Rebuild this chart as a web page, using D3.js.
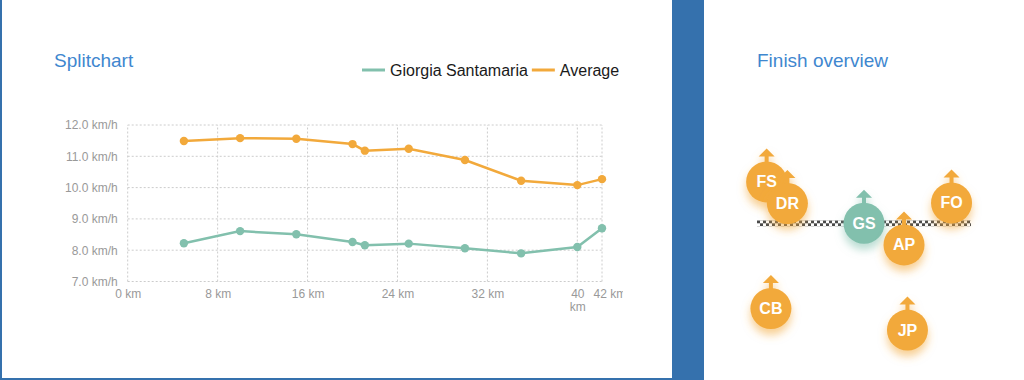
<!DOCTYPE html>
<html>
<head>
<meta charset="utf-8">
<script src="https://cdn.jsdelivr.net/npm/d3@7"></script>
<style>
  html, body { margin: 0; padding: 0; background: #3571ad; }
  svg { display: block; font-family: "Liberation Sans", Arial, Helvetica, sans-serif; }
</style>
</head>
<body>
<svg id="chart" width="1024" height="380"></svg>
<script>
// ---------- data ----------
const splitKm = [5, 10, 15, 20, 21.0975, 25, 30, 35, 40, 42.195];
const runnerSpeed = [8.22, 8.61, 8.51, 8.26, 8.16, 8.21, 8.06, 7.90, 8.10, 8.70];
const averageSpeed = [11.49, 11.58, 11.56, 11.39, 11.18, 11.24, 10.88, 10.22, 10.08, 10.27];
const seriesNames = ["Giorgia Santamaria", "Average"];
const xTicks = [0, 8, 16, 24, 32, 40, 42.195];
const xTickLabels = ["0 km", "8 km", "16 km", "24 km", "32 km", "40 km", "42 km"];
const yTicks = [7, 8, 9, 10, 11, 12];
const yTickLabels = ["7.0 km/h", "8.0 km/h", "9.0 km/h", "10.0 km/h", "11.0 km/h", "12.0 km/h"];

// finish overview
const finisherInitials = ["FS", "DR", "GS", "AP", "FO", "CB", "JP"];
const finisherX = [4.5, 14.2, 50, 68.7, 90.9, 6.5, 70.3];
const finisherY = [0.69, 0.33, 0, -0.36, 0.34, -1.42, -1.78];
const focusRunner = "GS";

// ---------- styles ----------
const GREEN = "#82c0ad";
const ORANGE = "#f2a93b";
const TITLE = "#3f87cf";

const svg = d3.select("#chart");

// background cards
svg.append("rect").attr("x", 2).attr("y", 0).attr("width", 670).attr("height", 378).attr("fill", "#fff");
svg.append("rect").attr("x", 704).attr("y", 0).attr("width", 320).attr("height", 380).attr("fill", "#fff");

// titles
svg.append("text").attr("x", 54).attr("y", 67).attr("font-size", 19).attr("fill", TITLE).text("Splitchart");
svg.append("text").attr("x", 757).attr("y", 67).attr("font-size", 19).attr("fill", TITLE).text("Finish overview");

// ---------- line chart ----------
const x = d3.scaleLinear().domain([0, 42.195]).range([127.7, 602]);
const y = d3.scaleLinear().domain([7, 12]).range([281.5, 125]);

const grid = svg.append("g");
grid.selectAll("line.h").data(yTicks).join("line")
  .attr("x1", x(0)).attr("x2", x(42.195))
  .attr("y1", d => y(d)).attr("y2", d => y(d))
  .attr("stroke", "#cccccc").attr("stroke-width", 1).attr("stroke-dasharray", "2,2");
grid.selectAll("line.v").data(xTicks).join("line")
  .attr("x1", d => x(d)).attr("x2", d => x(d))
  .attr("y1", y(7)).attr("y2", y(12))
  .attr("stroke", "#cccccc").attr("stroke-width", 1).attr("stroke-dasharray", "2,2");

// y axis labels
const yAxis = d3.axisLeft(y).tickValues(yTicks).tickSize(0).tickPadding(10)
  .tickFormat((d, i) => yTickLabels[i]);
const gy = svg.append("g").attr("transform", `translate(${x(0)},0)`).call(yAxis);
gy.select(".domain").remove();
gy.selectAll("text").attr("font-size", 12).attr("fill", "#999")
  .attr("font-family", "Liberation Sans, Arial, sans-serif");

// x axis labels (clipped at the right edge like the original)
svg.append("clipPath").attr("id", "xclip").append("rect")
  .attr("x", -40).attr("y", -5).attr("width", 663).attr("height", 40);
const xAxis = d3.axisBottom(x).tickValues(xTicks).tickSize(0).tickPadding(8)
  .tickFormat((d, i) => xTickLabels[i]);
const gxOuter = svg.append("g").attr("transform", `translate(0,${y(7)})`);
const gx = gxOuter.append("g").attr("clip-path", "url(#xclip)").call(xAxis);
gx.select(".domain").remove();
gx.selectAll("text").attr("font-size", 12).attr("fill", "#999")
  .attr("font-family", "Liberation Sans, Arial, sans-serif");
// wrap "40 km" onto two lines (not enough room)
gx.selectAll(".tick text").filter(d => d === 40).each(function() {
  const t = d3.select(this);
  const parts = t.text().split(" ");
  t.text(null);
  t.append("tspan").attr("x", 0).attr("dy", "0.71em").text(parts[0]);
  t.append("tspan").attr("x", 0).attr("dy", "1.1em").text(parts[1]);
}).attr("dy", null);
gx.selectAll(".tick text").filter(d => d === 42.195).attr("text-anchor", "start").attr("x", -9);

const line = d3.line().x(d => x(d[0])).y(d => y(d[1]));
const series = [
  { name: seriesNames[0], color: GREEN, values: splitKm.map((k, i) => [k, runnerSpeed[i]]) },
  { name: seriesNames[1], color: ORANGE, values: splitKm.map((k, i) => [k, averageSpeed[i]]) }
];
series.forEach(s => {
  svg.append("path").datum(s.values).attr("d", line)
    .attr("fill", "none").attr("stroke", s.color).attr("stroke-width", 2.5);
  svg.append("g").selectAll("circle").data(s.values).join("circle")
    .attr("cx", d => x(d[0])).attr("cy", d => y(d[1])).attr("r", 4.2)
    .attr("fill", s.color);
});

// legend
const legend = svg.append("g").attr("transform", "translate(362,70)");
let lx = 0;
series.forEach(s => {
  const g = legend.append("g").attr("transform", `translate(${lx},0)`);
  g.append("line").attr("x1", 0).attr("x2", 23).attr("y1", 0).attr("y2", 0)
    .attr("stroke", s.color).attr("stroke-width", 3);
  const t = g.append("text").attr("x", 28).attr("y", 5.5).attr("font-size", 16).attr("fill", "#1a1a1a").text(s.name);
  lx += 28 + t.node().getComputedTextLength() + 4;
});

// ---------- finish overview ----------
const fx = d3.scaleLinear().domain([0, 100]).range([757, 971]);
const fy = d3.scaleLinear().domain([-1, 1]).range([283.3, 163.3]);
const R = 20.5;

const defs = svg.append("defs");
const pat = defs.append("pattern").attr("id", "checker").attr("patternUnits", "userSpaceOnUse")
  .attr("x", 757).attr("y", fy(0) - 3).attr("width", 6).attr("height", 6);
pat.append("rect").attr("width", 6).attr("height", 6).attr("fill", "#ffffff");
pat.append("rect").attr("x", 0).attr("y", 0).attr("width", 3).attr("height", 3).attr("fill", "#2a2a2a");
pat.append("rect").attr("x", 3).attr("y", 3).attr("width", 3).attr("height", 3).attr("fill", "#2a2a2a");

[["shadowO", ORANGE], ["shadowG", GREEN]].forEach(([id, c]) => {
  const f = defs.append("filter").attr("id", id).attr("x", "-60%").attr("y", "-60%").attr("width", "220%").attr("height", "240%");
  f.append("feDropShadow").attr("dx", 0).attr("dy", 6).attr("stdDeviation", 4)
    .attr("flood-color", c).attr("flood-opacity", 0.55);
});

svg.append("rect").attr("x", fx(0)).attr("y", fy(0) - 3).attr("width", fx(100) - fx(0)).attr("height", 6)
  .attr("fill", "url(#checker)").attr("opacity", 0.85);

const finishers = finisherInitials.map((n, i) => ({ name: n, x: finisherX[i], y: finisherY[i] }));
const fg = svg.append("g");
finishers.forEach(d => {
  const cx = fx(d.x), cy = fy(d.y);
  const c = d.name === focusRunner ? GREEN : ORANGE;
  const g = fg.append("g").attr("filter", d.name === focusRunner ? "url(#shadowG)" : "url(#shadowO)");
  const tip = cy - R - 13;
  g.append("path")
    .attr("d", `M${cx},${tip} L${cx + 8},${tip + 8} L${cx + 2},${tip + 8} L${cx + 2},${cy - R + 2} L${cx - 2},${cy - R + 2} L${cx - 2},${tip + 8} L${cx - 8},${tip + 8} Z`)
    .attr("fill", c);
  g.append("circle").attr("cx", cx).attr("cy", cy).attr("r", R).attr("fill", c);
  fg.append("text").attr("x", cx).attr("y", cy + 5.5).attr("text-anchor", "middle")
    .attr("font-size", 16).attr("font-weight", "bold").attr("fill", "#fff").text(d.name);
});
</script>
</body>
</html>
